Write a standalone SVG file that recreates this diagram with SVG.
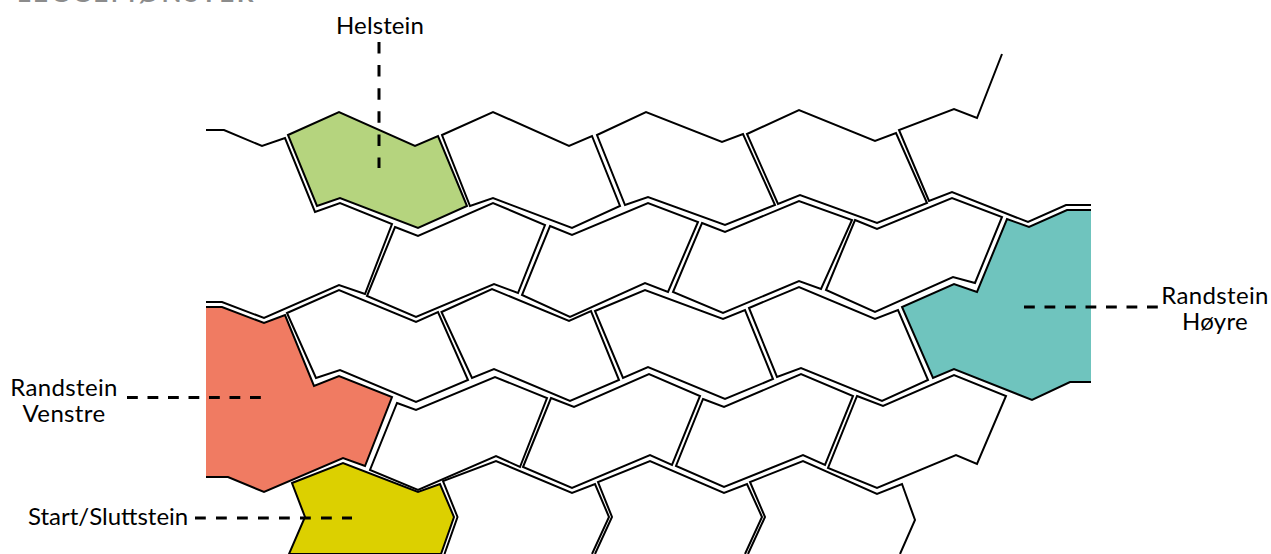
<svg xmlns="http://www.w3.org/2000/svg" width="1271" height="554" viewBox="0 0 1271 554">
<style>
.s{fill:#fff;stroke:#000;stroke-width:2;stroke-linejoin:miter}
.o{fill:none;stroke:#000;stroke-width:2;stroke-linejoin:miter}
.c{stroke:none}
.d{fill:none;stroke:#000;stroke-width:3}
.v{stroke-dasharray:11.5 11.6}
.h{stroke-dasharray:10.8 9.7}
.h2{stroke-dasharray:10.8 10.2}
text{font-family:"Lato","Liberation Sans",sans-serif;font-size:24px;fill:#000;letter-spacing:.35px}
.m{text-anchor:middle}
</style>
<rect width="1271" height="554" fill="#fff"/>
<text id="title" x="17" y="2" style="font-size:26px;font-weight:700;fill:#8c8c8c;letter-spacing:2.6px">LEGGEMØNSTER</text>
<g id="open-stones">
<polyline class="o" points="206,130 224,130 262,146 285,138 315,212 340,203 392,224 365,294 339,285 264,318 222,302 206,302"/>
<polyline class="o" points="1002,54 977,118 954,109 899,130 929,201 952,192 1028,222 1066,205 1091,205"/>
<polyline class="o" points="444.500,554 457.500,517 443,481 496,461 572,493 595,484 609,517 592,554"/>
<polyline class="o" points="595,554 612,517 598,482 650,461 724,493 747,484 762,517 745,554"/>
<polyline class="o" points="748,554 765,517 750,482 803,461 877,494 902,484 915,520 900,554"/>
</g>
<g id="stones-row1">
<polygon id="helstein" points="288,135 339,112 415,146 438,136 467,206 418,228 340,198 317,206" style="fill:#b5d47e;stroke:#000;stroke-width:2"/>
<polygon class="s" points="442,135 493,112 569,146 592,136 620,206 572,228 493,198 470,206"/>
<polygon class="s" points="597,135 646,112 722,142 743,134 775,205 725,225 648,197 625,205"/>
<polygon class="s" points="747,134 799,110 875,141 896,133 927,203 877,223 800,195 778,204"/>
</g>
<g id="stones-row2">
<polygon class="s" points="395,227 418,236 493,203 545,225 518,293 494,284 416,317 367,296"/>
<polygon class="s" points="550,226 572,235 648,203 698,222 668,292 645,283 570,317 522,295"/>
<polygon class="s" points="702,223 725,232 799,201 852,220 821,289 799,281 723,313 673,292"/>
<polygon class="s" points="855,220 877,229 952,198 1002,217 975,283 953,277 875,312 826,290"/>
</g>
<g id="stones-row3">
<polygon class="s" points="287,313 339,290 416,322 438,312 468,380 416,402 340,370 316,378"/>
<polygon class="s" points="441.500,312 492,289 569,321 591,311 619,380 570,401 494,369 472,378"/>
<polygon class="s" points="595,311 645,290 723,319 745,310 773,379 725,399 648,367 623,378"/>
<polygon class="s" points="749,308 799,287 875,319 898,310 928,380 882,401 801,368 777,377"/>
</g>
<g id="stones-row4">
<polygon class="s" points="397,403 416,410 495,377 547,398 520,467 496,456 418,490 370,470"/>
<polygon class="s" points="551,398 574,407 649,374 700,396 672,465 650,455 572,488 523,467"/>
<polygon class="s" points="703,399 724,407 801,374 853,396 825,465 803,455 724,487 676,466"/>
<polygon class="s" points="857,396 883,406 954,375 1006,396 977,464 956,455 877,488 828,468"/>
</g>
<g id="randstein-venstre">
<polygon class="c" fill="#f07b62" points="206,307 222,307 264,323 285,315 314,386 339,376 392,397 365,466 343,458 264,492 228,477 206,477"/>
<polyline class="o" points="206,307 222,307 264,323 285,315 314,386 339,376 392,397 365,466 343,458 264,492 228,477 206,477"/>
</g>
<g id="randstein-hoyre">
<polygon class="c" fill="#6fc4be" points="1007,219 1029,227 1067,210 1091,210 1091,382 1070,382 1032,400 954,369 933,378 902,307 954,284 977,292"/>
<polyline class="o" points="1091,210 1067,210 1029,227 1007,219 977,292 954,284 902,307 933,378 954,369 1032,400 1070,382 1091,382"/>
</g>
<g id="start-sluttstein">
<polygon fill="#dcd000" stroke="#000" stroke-width="2" points="292,483 343,463 418,492 440,484 454,517 441,554 289,554 305,517"/>
</g>
<g id="connectors">
<path class="d v" d="M379 42V168"/>
<path class="d h" d="M127 397.500H262"/>
<path class="d h2" d="M195 518H352"/>
<path class="d h" d="M1024 307H1158"/>
</g>
<g id="labels">
<text class="m" x="380" y="34" style="letter-spacing:.1px">Helstein</text>
<text class="m" x="64" y="396">Randstein</text>
<text class="m" x="64" y="422">Venstre</text>
<text x="28" y="525" style="letter-spacing:0">Start/Sluttstein</text>
<text class="m" x="1215" y="304">Randstein</text>
<text class="m" x="1215" y="330">Høyre</text>
</g>
</svg>
